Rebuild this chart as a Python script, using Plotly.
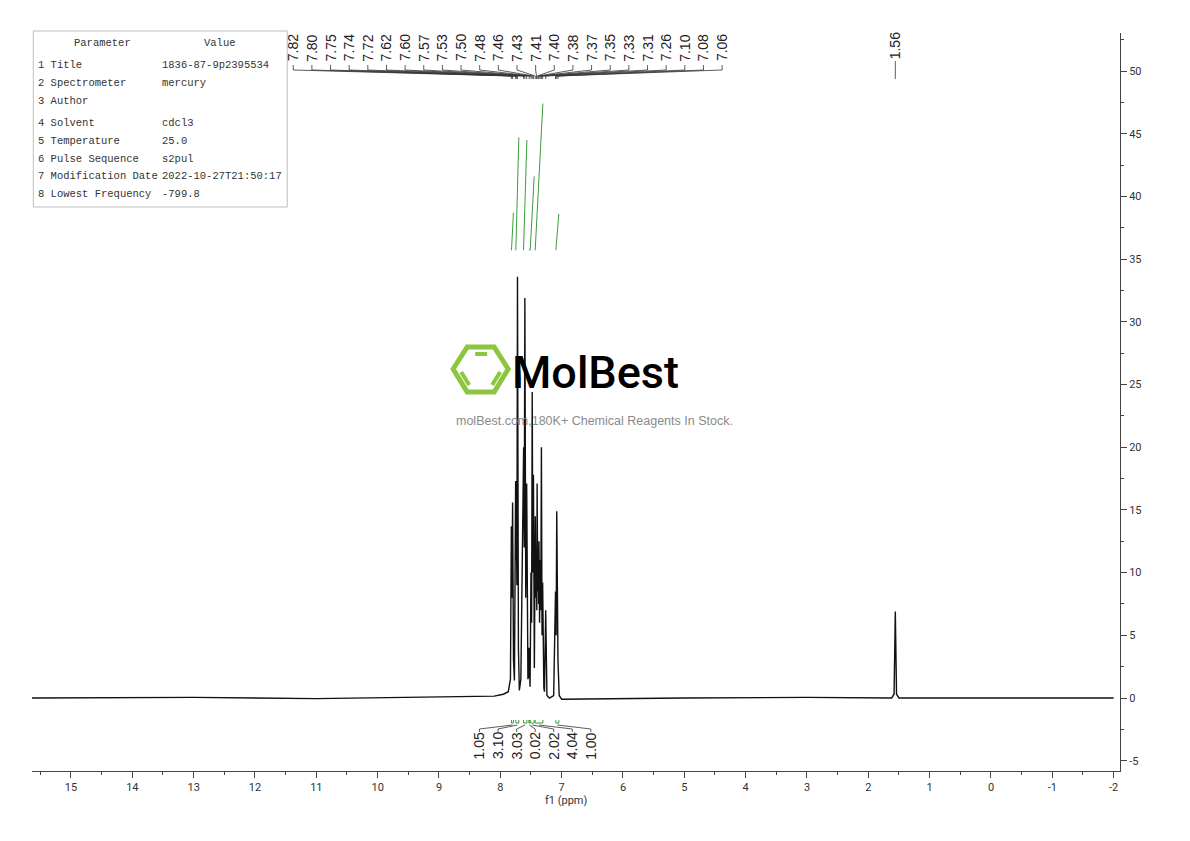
"""1H NMR spectrum (CDCl3) rebuilt with Plotly."""

import plotly.graph_objects as go

# ---- spectrum trace (ppm, intensity) ----
SHIFT = [15.64, 13.0, 11.0, 9.5, 8.4, 8.1, 7.95, 7.87, 7.835,
         7.82, 7.81, 7.80, 7.785, 7.77,
         7.75, 7.745, 7.74, 7.73, 7.72, 7.705, 7.69, 7.665,
         7.62, 7.61, 7.60, 7.585, 7.57, 7.55, 7.535, 7.53, 7.515,
         7.50, 7.49, 7.48, 7.47, 7.46, 7.445, 7.43, 7.42, 7.41, 7.405,
         7.40, 7.39, 7.38, 7.375, 7.37, 7.36, 7.35, 7.34, 7.33, 7.32,
         7.31, 7.29, 7.28, 7.26, 7.24, 7.20, 7.13,
         7.10, 7.09, 7.08, 7.07, 7.06, 7.04, 7.00,
         5.0, 3.0, 1.62, 1.58, 1.56, 1.54, 1.50, 0.0, -2.0]
INTENSITY = [0.0, 0.05, -0.05, 0.05, 0.1, 0.15, 0.3, 0.5, 1.5,
             13.7, 8.0, 15.6, 3.0, 1.4,
             17.3, 11.0, 15.0, 9.0, 33.6, 4.0, 0.6, 1.5,
             20.0, 12.0, 31.9, 8.0, 17.1, 1.5, 1.8, 4.0, 0.9,
             10.0, 6.0, 24.4, 10.0, 17.8, 2.4, 14.5, 8.0, 9.6, 7.0,
             17.1, 8.5, 12.0, 7.5, 12.5, 6.0, 11.0, 7.0, 20.0, 5.0,
             9.2, 0.8, 0.5, 7.0, 0.2, 0.0, 0.2,
             8.5, 5.0, 14.9, 4.0, 3.0, 0.2, -0.1,
             0.0, 0.05, 0.0, 0.3, 6.9, 0.3, 0.0, 0.0, 0.0]

# ---- peak picking labels ----
PEAK_LABELS = ["7.82", "7.80", "7.75", "7.74", "7.72", "7.62", "7.60", "7.57",
               "7.53", "7.50", "7.48", "7.46", "7.43", "7.41", "7.40", "7.38",
               "7.37", "7.35", "7.33", "7.31", "7.26", "7.10", "7.08", "7.06"]
SOLVENT_PEAK = "1.56"

# ---- integrals ----
INTEGRAL_VALUES = ["1.05", "3.10", "3.03", "0.02", "2.02", "4.04", "1.00"]
INTEGRAL_FROM = [7.818, 7.747, 7.622, 7.535, 7.513, 7.432, 7.095]
INTEGRAL_TO = [7.786, 7.698, 7.567, 7.520, 7.448, 7.306, 7.046]
INTEGRAL_TOP = [38.7, 44.7, 44.5, 35.76, 41.6, 47.4, 38.6]
INTEGRAL_BASE = 35.7

# ---- parameter table ----
PARAM_NAMES = ["1 Title", "2 Spectrometer", "3 Author", "4 Solvent",
               "5 Temperature", "6 Pulse Sequence", "7 Modification Date",
               "8 Lowest Frequency"]
PARAM_VALUES = ["1836-87-9p2395534", "mercury", "", "cdcl3", "25.0",
                "s2pul", "2022-10-27T21:50:17", "-799.8"]

X_TICKS = list(range(15, -3, -1))
Y_TICKS = list(range(-5, 55, 5))

# ---- page geometry (pixels of the 1190x841 page; body has an 8px margin) ----
OFF = 8
W, H = 1190 - 2 * OFF, 841 - 2 * OFF
PX_L, PX_R, PY_T, PY_B = 31.7, 1120.0, 33.0, 771.0


def px_to_ppm(px):
    return 15 - (px - 70.7) / 61.35


def py_to_val(py):
    return (698 - py) / 12.54


def pxp(px):
    return (px - PX_L) / (PX_R - PX_L)


def pyp(py):
    return (PY_B - py) / (PY_B - PY_T)


TICKF = "Roboto, Liberation Sans, sans-serif"
SANS = "Liberation Sans, Arial, sans-serif"
MONO = "Liberation Mono, DejaVu Sans Mono, monospace"


def label(x, y, text, size=14, family=SANS, color="#222222", angle=0,
          xanchor="center", xref="paper", weight="normal"):
    return dict(x=x, y=y, xref=xref, yref="paper", text=text, textangle=angle,
                showarrow=False, xanchor=xanchor, yanchor="middle",
                font=dict(family=family, size=size, color=color, weight=weight))


fig = go.Figure()

fig.add_trace(go.Scatter(x=SHIFT, y=INTENSITY, mode="lines",
                         line=dict(color="#111111", width=1.4),
                         hoverinfo="skip"))

# integral curves
ix, iy = [], []
for a, b, top in zip(INTEGRAL_FROM, INTEGRAL_TO, INTEGRAL_TOP):
    ix += [a, b, None]
    iy += [INTEGRAL_BASE, top, None]
fig.add_trace(go.Scatter(x=ix, y=iy, mode="lines",
                         line=dict(color="#3e9b3e", width=1), hoverinfo="skip"))

# peak label connectors
peak_ppm = [float(s) for s in PEAK_LABELS]
n = len(PEAK_LABELS)
lab_px = [293 + i * (722 - 293) / (n - 1) for i in range(n)]
cx, cy = [], []
for lp, pk in zip(lab_px, peak_ppm):
    lx = px_to_ppm(lp)
    cx += [lx, lx, pk, pk, None]
    cy += [py_to_val(65), py_to_val(70), py_to_val(76), py_to_val(79), None]
sp = float(SOLVENT_PEAK)
cx += [sp, sp, None]
cy += [py_to_val(61), py_to_val(79), None]
fig.add_trace(go.Scatter(x=cx, y=cy, mode="lines",
                         line=dict(color="#333333", width=0.8), hoverinfo="skip"))

annotations = []
for lp, txt in zip(lab_px, PEAK_LABELS):
    annotations.append(label(pxp(lp), pyp(48), txt, angle=-90))
annotations.append(label(sp, pyp(46), SOLVENT_PEAK, angle=-90, xref="x"))

# integral labels, brackets and connectors
m = len(INTEGRAL_VALUES)
int_px = [479.3 + i * (590.7 - 479.3) / (m - 1) for i in range(m)]
bx, by, gx, gy = [], [], [], []
for lp, a, b in zip(int_px, INTEGRAL_FROM, INTEGRAL_TO):
    lx = px_to_ppm(lp)
    mid = (a + b) / 2
    bx += [lx, lx, mid, None]
    by += [py_to_val(732), py_to_val(729), py_to_val(725), None]
    gx += [a, a, b, b, None]
    gy += [py_to_val(720), py_to_val(723), py_to_val(723), py_to_val(720), None]
fig.add_trace(go.Scatter(x=bx, y=by, mode="lines",
                         line=dict(color="#333333", width=0.8), hoverinfo="skip"))
fig.add_trace(go.Scatter(x=gx, y=gy, mode="lines",
                         line=dict(color="#3e9b3e", width=1), hoverinfo="skip"))
for lp, txt in zip(int_px, INTEGRAL_VALUES):
    annotations.append(label(pxp(lp), pyp(746), txt, angle=-90))

# parameter table
annotations.append(label(pxp(102), pyp(43), "Parameter", size=10.5,
                         family=MONO, color="#333333"))
annotations.append(label(pxp(220), pyp(43), "Value", size=10.5,
                         family=MONO, color="#333333"))
row_y = [65, 83, 101, 123, 141, 159, 176, 194]
for ry, name, val in zip(row_y, PARAM_NAMES, PARAM_VALUES):
    annotations.append(label(pxp(36), pyp(ry), name, size=10.5, family=MONO,
                             color="#333333", xanchor="left"))
    if val:
        annotations.append(label(pxp(160), pyp(ry), val, size=10.5, family=MONO,
                                 color="#333333", xanchor="left"))

# watermark
annotations.append(label(pxp(510), pyp(372), "MolBest", size=45,
                         family="Roboto, sans-serif", color="#000000",
                         xanchor="left", weight=500))
annotations.append(label(pxp(594), pyp(421),
                         "molBest.com,180K+ Chemical Reagents In Stock.",
                         size=12.5, color="#8a8a8a"))

hexagon = [(453, 369), (467, 347), (494, 347), (508, 369), (494, 392), (467, 392)]
hex_path = "M " + " L ".join(f"{pxp(x):.5f},{pyp(y):.5f}" for x, y in hexagon) + " Z"
GREEN = "#8cc63f"
shapes = [
    dict(type="path", path=hex_path, xref="paper", yref="paper",
         line=dict(color=GREEN, width=5)),
    dict(type="line", xref="paper", yref="paper", x0=pxp(475), x1=pxp(487),
         y0=pyp(354), y1=pyp(354), line=dict(color=GREEN, width=4)),
    dict(type="line", xref="paper", yref="paper", x0=pxp(461), x1=pxp(469),
         y0=pyp(372), y1=pyp(385), line=dict(color=GREEN, width=4)),
    dict(type="line", xref="paper", yref="paper", x0=pxp(500), x1=pxp(492),
         y0=pyp(372), y1=pyp(385), line=dict(color=GREEN, width=4)),
    dict(type="rect", xref="paper", yref="paper", x0=pxp(33), x1=pxp(287),
         y0=pyp(207), y1=pyp(31), line=dict(color="#bdbdbd", width=1)),
]

annotations.append(label(pxp(566), pyp(801), "f1 (ppm)", size=11,
                         family=TICKF, color="#333333"))

axis_common = dict(ticks="outside", ticklen=6, tickcolor="#444444",
                   showline=True, linecolor="#444444", linewidth=1,
                   showgrid=False, zeroline=False,
                   tickfont=dict(family=TICKF, size=11, color="#333333"))

fig.update_layout(
    width=W, height=H,
    margin=dict(l=PX_L - OFF, r=W + OFF - PX_R, t=PY_T - OFF, b=H + OFF - PY_B,
                autoexpand=False),
    plot_bgcolor="white", paper_bgcolor="white",
    showlegend=False,
    annotations=annotations,
    shapes=shapes,
    xaxis=dict(range=[px_to_ppm(PX_L), px_to_ppm(PX_R)],
               tickvals=X_TICKS, ticktext=[str(t) for t in X_TICKS],
               minor=dict(dtick=0.5, ticks="outside", ticklen=3,
                          tickcolor="#444444", showgrid=False),
               **axis_common),
    yaxis=dict(range=[py_to_val(PY_B), py_to_val(PY_T)], side="right",
               tickvals=Y_TICKS, ticktext=[str(t) for t in Y_TICKS],
               minor=dict(dtick=2.5, ticks="outside", ticklen=3,
                          tickcolor="#444444", showgrid=False),
               **axis_common),
)

fig.write_html("out.html")
